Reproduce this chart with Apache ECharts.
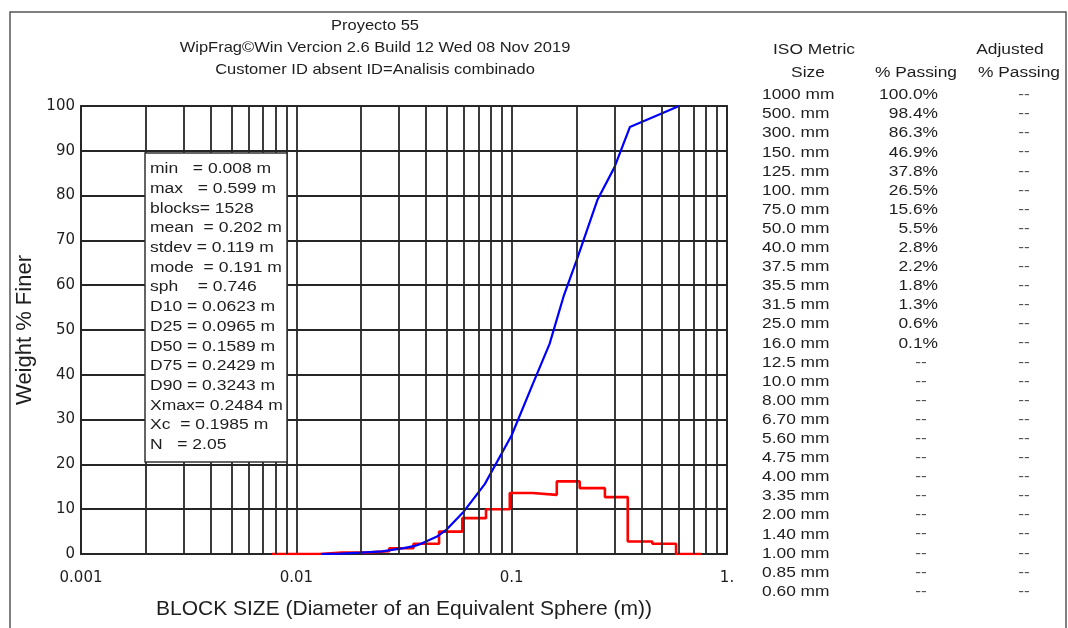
<!DOCTYPE html>
<html><head><meta charset="utf-8">
<script src="https://cdn.jsdelivr.net/npm/echarts@6/dist/echarts.min.js"></script>
<style>html,body{margin:0;padding:0;background:#fff}#c{width:1068px;height:628px}</style>
</head><body><div id="c"></div>
<script>
// ---------- data ----------
const titleLines = ["Proyecto 55", "WipFrag\u00A9Win Vercion 2.6 Build 12 Wed 08 Nov 2019", "Customer ID absent ID=Analisis combinado"];
const xTickValues = [0.001, 0.01, 0.1, 1];
const xTickLabels = ["0.001", "0.01", "0.1", "1."];
const xMinorGrid = [0.002, 0.003, 0.004, 0.005, 0.006, 0.007, 0.008, 0.009,
                    0.02, 0.03, 0.04, 0.05, 0.06, 0.07, 0.08, 0.09,
                    0.2, 0.3, 0.4, 0.5, 0.6, 0.7, 0.8, 0.9];
const yMin = 0, yMax = 100, yStep = 10;

// cumulative % finer (blue)
const curveSize    = [0.013, 0.016, 0.02, 0.025, 0.0315, 0.0355, 0.0375, 0.04, 0.045, 0.05, 0.06, 0.075, 0.1, 0.125, 0.15, 0.175, 0.2, 0.25, 0.3, 0.354, 0.5, 0.599];
const curvePassing = [0, 0.1, 0.3, 0.6, 1.3, 1.8, 2.2, 2.8, 3.9, 5.5, 9.5, 15.6, 26.5, 37.8, 46.9, 57.8, 65.5, 79.0, 86.3, 95.3, 98.4, 100];

// histogram (red): bin edges and % per bin
const binEdges   = [0.0077, 0.0099, 0.0128, 0.0163, 0.021, 0.027, 0.035, 0.046, 0.059, 0.076, 0.098, 0.125, 0.162, 0.207, 0.271, 0.346, 0.45, 0.58, 0.76];
const binPercent = [0, 0, 0.3, 0.3, 0.6, 1.3, 2.3, 5.0, 8.0, 10.0, 13.6, 13.2, 16.2, 14.7, 12.7, 2.8, 2.3, 0];

const statsLines = ["min   = 0.008 m", "max   = 0.599 m", "blocks= 1528", "mean  = 0.202 m", "stdev = 0.119 m",
  "mode  = 0.191 m", "sph    = 0.746", "D10 = 0.0623 m", "D25 = 0.0965 m", "D50 = 0.1589 m", "D75 = 0.2429 m",
  "D90 = 0.3243 m", "Xmax= 0.2484 m", "Xc  = 0.1985 m", "N   = 2.05"];

const isoSizes = ["1000 mm", "500. mm", "300. mm", "150. mm", "125. mm", "100. mm", "75.0 mm", "50.0 mm", "40.0 mm",
  "37.5 mm", "35.5 mm", "31.5 mm", "25.0 mm", "16.0 mm", "12.5 mm", "10.0 mm", "8.00 mm", "6.70 mm", "5.60 mm",
  "4.75 mm", "4.00 mm", "3.35 mm", "2.00 mm", "1.40 mm", "1.00 mm", "0.85 mm", "0.60 mm"];
const isoPassing = [100.0, 98.4, 86.3, 46.9, 37.8, 26.5, 15.6, 5.5, 2.8, 2.2, 1.8, 1.3, 0.6, 0.1,
  null, null, null, null, null, null, null, null, null, null, null, null, null];
const isoAdjusted = [null, null, null, null, null, null, null, null, null, null, null, null, null, null,
  null, null, null, null, null, null, null, null, null, null, null, null, null];

// ---------- build ----------
const FONT = '"Liberation Sans", Arial, sans-serif';
const TXT = '#1e1e1e';
const GRIDC = '#262626';
const GW = 1.8;

const blueData = curveSize.map((s, i) => [s, curvePassing[i]]);
const redData = [];
binPercent.forEach((p, i) => { redData.push([binEdges[i], p]); redData.push([binEdges[i + 1], p]); });

function t(x, y, text, o) {
  o = o || {};
  return {
    type: 'text', x: x, y: y, scaleX: o.sx || 1, silent: true, z: 100,
    style: { x: 0, y: 0, text: text, fontSize: o.fs || 15, fontFamily: FONT, fill: o.fill || TXT,
             align: o.align || 'left', verticalAlign: 'middle' }
  };
}

const graphics = [];
graphics.push({ type: 'rect', shape: { x: 10, y: 12, width: 1056, height: 640 }, silent: true, z: 0,
  style: { fill: 'none', stroke: '#555', lineWidth: 1.5 } });
const titleY = [26, 48, 70];
titleLines.forEach((l, i) => graphics.push(t(375, titleY[i], l, { align: 'center', sx: 1.1, fs: 15 })));

// stats box
graphics.push({ type: 'rect', shape: { x: 145, y: 153, width: 142, height: 309 }, silent: true, z: 99,
  style: { fill: '#fff', stroke: '#333', lineWidth: 1.5 } });
statsLines.forEach((l, i) => graphics.push(t(150, 169 + i * 19.7, l, { sx: 1.13, fs: 15.5 })));

// table
const rowY0 = 95, rowStep = 19.1;
graphics.push(t(814, 50, "ISO Metric", { align: 'center', sx: 1.12, fs: 15.5 }));
graphics.push(t(808, 73, "Size", { align: 'center', sx: 1.12, fs: 15.5 }));
graphics.push(t(916, 73, "% Passing", { align: 'center', sx: 1.12, fs: 15.5 }));
graphics.push(t(1010, 50, "Adjusted", { align: 'center', sx: 1.12, fs: 15.5 }));
graphics.push(t(1019, 73, "% Passing", { align: 'center', sx: 1.12, fs: 15.5 }));
isoSizes.forEach((s, i) => {
  const y = rowY0 + i * rowStep;
  graphics.push(t(762, y, s, { sx: 1.12, fs: 15.5 }));
  const p = isoPassing[i];
  if (p == null) graphics.push(t(921, y, "--", { align: 'center', sx: 1.15, fill: '#555' }));
  else graphics.push(t(938, y, p.toFixed(1) + "%", { align: 'right', sx: 1.12, fs: 15.5 }));
  const a = isoAdjusted[i];
  graphics.push(t(1024, y, a == null ? "--" : a.toFixed(1) + "%", { align: 'center', sx: 1.15, fill: '#555' }));
});

const chart = echarts.init(document.getElementById('c'), null, { renderer: 'canvas' });
chart.setOption({
  animation: false,
  backgroundColor: '#fff',
  grid: { left: 81, top: 106, width: 646, height: 448, show: true, borderColor: GRIDC, borderWidth: GW, containLabel: false },
  xAxis: {
    type: 'log', logBase: 10, min: xTickValues[0], max: xTickValues[xTickValues.length - 1],
    name: "BLOCK SIZE (Diameter of an Equivalent Sphere (m))", nameLocation: 'middle', nameGap: 45,
    nameTextStyle: { fontSize: 21, fontFamily: FONT, color: TXT },
    axisLine: { show: true, lineStyle: { color: GRIDC, width: GW } },
    axisTick: { show: false },
    splitLine: { show: true, lineStyle: { color: GRIDC, width: GW } },
    axisLabel: {
      margin: 17, fontSize: 15, fontFamily: '"DejaVu Sans", sans-serif', color: TXT,
      formatter: function (v) {
        let best = 0, bd = Infinity;
        xTickValues.forEach((tv, i) => { const d = Math.abs(Math.log10(v) - Math.log10(tv)); if (d < bd) { bd = d; best = i; } });
        return xTickLabels[best];
      }
    }
  },
  yAxis: {
    type: 'value', min: yMin, max: yMax, interval: yStep,
    name: "Weight % Finer", nameLocation: 'middle', nameGap: 40, nameRotate: 90,
    nameTextStyle: { fontSize: 22, fontFamily: FONT, color: TXT },
    axisLine: { show: true, lineStyle: { color: GRIDC, width: GW } },
    axisTick: { show: false },
    splitLine: { show: true, lineStyle: { color: GRIDC, width: GW } },
    axisLabel: { margin: 6, fontSize: 15, fontFamily: '"DejaVu Sans", sans-serif', color: TXT }
  },
  series: [
    { type: 'line', name: 'grid', data: [], z: 1, silent: true,
      markLine: { silent: true, symbol: 'none', animation: false, precision: 6, label: { show: false },
        lineStyle: { color: GRIDC, width: GW, type: 'solid' },
        data: xMinorGrid.map(v => [{ coord: [v, yMin] }, { coord: [v, yMax] }]) } },
    { type: 'line', name: 'histogram', data: redData, z: 3, symbol: 'none', silent: true,
      lineStyle: { color: '#ff0000', width: 2.6 } },
    { type: 'line', name: 'cumulative', data: blueData, z: 4, symbol: 'none', silent: true,
      lineStyle: { color: '#0000ff', width: 2.2 } }
  ],
  graphic: graphics
});
</script></body></html>
